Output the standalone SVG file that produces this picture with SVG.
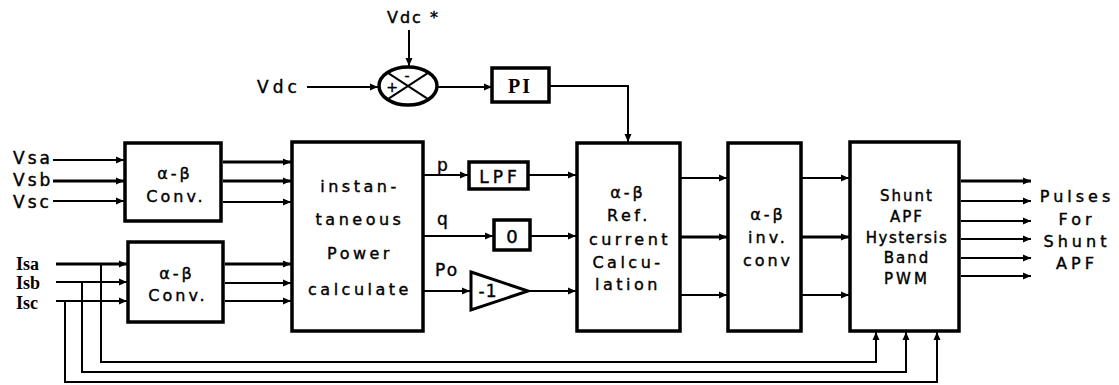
<svg xmlns="http://www.w3.org/2000/svg" width="1119" height="385" viewBox="0 0 1119 385">
<defs>
<marker id="ah" markerUnits="userSpaceOnUse" markerWidth="9" markerHeight="8" refX="8" refY="4" orient="auto">
<path d="M0,0.5 L8,4 L0,7.5 Z" fill="#000"/>
</marker>
</defs>
<style>
.box{fill:#fff;stroke:#000;stroke-width:3.5}
.ln{fill:none;stroke:#000;stroke-width:2;marker-end:url(#ah)}
.lnp{fill:none;stroke:#000;stroke-width:2}
.thk{stroke-width:3}
text{font-family:"DejaVu Sans",Verdana,sans-serif;fill:#000;stroke:#000;stroke-width:0.4}
.t{font-size:16px;text-anchor:middle;letter-spacing:3px}
.lbl{font-size:17px;letter-spacing:3px}
.ser{font-family:"Liberation Serif","Times New Roman",serif;font-weight:bold;font-size:18px;stroke-width:0}
</style>
<rect width="1119" height="385" fill="#fff"/>

<g id="connectors">
<path class="ln" d="M409,30 V66"/>
<path class="ln" d="M307,87 H378"/>
<path class="ln" d="M438,87 H492"/>
<path class="ln" d="M550,86 H628 V142"/>
<path class="ln" d="M53,160 H124"/>
<path class="ln thk" d="M53,181 H124"/>
<path class="ln" d="M53,201 H124"/>
<path class="ln thk" d="M56,264 H127"/>
<path class="ln" d="M56,282 H127"/>
<path class="ln" d="M56,301 H127"/>
<path class="ln thk" d="M223,162 H291"/>
<path class="ln thk" d="M223,181 H291"/>
<path class="ln" d="M223,202 H291"/>
<path class="ln thk" d="M225,264 H291"/>
<path class="ln" d="M225,283 H291"/>
<path class="ln" d="M225,301 H291"/>
<path class="ln" d="M424,175 H468"/>
<path class="ln" d="M529,175 H576"/>
<path class="ln" d="M424,236 H493"/>
<path class="ln" d="M531,236 H576"/>
<path class="ln" d="M424,291 H470"/>
<path class="ln" d="M528,291 H576"/>
<path class="ln" d="M681,178 H727"/>
<path class="ln thk" d="M681,237 H727"/>
<path class="ln" d="M681,295 H727"/>
<path class="ln" d="M802,178 H849"/>
<path class="ln thk" d="M802,237 H849"/>
<path class="ln" d="M802,295 H849"/>
<path class="ln thk" d="M961,181 H1031"/>
<path class="ln" d="M961,201 H1031"/>
<path class="ln" d="M961,221 H1031"/>
<path class="ln" d="M961,239 H1031"/>
<path class="ln" d="M961,258 H1031"/>
<path class="ln" d="M961,276 H1031"/>
<path class="ln" d="M101,264 V362 H876 V332"/>
<path class="ln" d="M82,282 V372 H906 V332"/>
<path class="ln" d="M65,301 V382 H937 V332"/>
</g>

<g id="sum">
<ellipse cx="408" cy="86" rx="29" ry="19" fill="#fff" stroke="#000" stroke-width="3.5"/>
<path class="lnp" d="M387.5,72.6 L428.5,99.4 M387.5,99.4 L428.5,72.6" stroke-width="1.5"/>
<text x="392" y="92" font-size="14" text-anchor="middle">+</text>
<text x="407" y="81" font-size="14" text-anchor="middle">-</text>
</g>

<g id="vdc-labels">
<text class="lbl" x="387" y="23" style="font-size:16px;letter-spacing:2px">Vdc *</text>
<text class="lbl" x="257" y="93" style="letter-spacing:4px">Vdc</text>
</g>

<g id="pi">
<rect class="box" x="492" y="68" width="57" height="34"/>
<text class="ser" x="520" y="93" text-anchor="middle" style="font-size:20px;letter-spacing:2px">PI</text>
</g>

<g id="v-labels">
<text class="lbl" x="13" y="164">Vsa</text>
<text class="lbl" x="13" y="186">Vsb</text>
<text class="lbl" x="13" y="208">Vsc</text>
</g>
<g id="i-labels">
<text class="ser" x="16" y="270">Isa</text>
<text class="ser" x="16" y="289">Isb</text>
<text class="ser" x="16" y="309">Isc</text>
</g>

<g id="conv-v">
<rect class="box" x="125" y="143" width="96" height="78"/>
<text class="t" x="175" y="179">α-β</text>
<text class="t" x="176" y="202">Conv.</text>
</g>
<g id="conv-i">
<rect class="box" x="128" y="242" width="95" height="80"/>
<text class="t" x="177" y="279">α-β</text>
<text class="t" x="178" y="301">Conv.</text>
</g>

<g id="inst-power">
<rect class="box" x="292" y="142" width="131" height="189"/>
<text class="t" x="360" y="192" style="letter-spacing:3.5px">instan-</text>
<text class="t" x="360" y="225" style="letter-spacing:3.5px">taneous</text>
<text class="t" x="360" y="259" style="letter-spacing:3.5px">Power</text>
<text class="t" x="360" y="295" style="letter-spacing:3.5px">calculate</text>
</g>

<g id="signal-labels">
<text x="437" y="171" font-size="17" letter-spacing="2">p</text>
<text x="437" y="225" font-size="17" letter-spacing="2">q</text>
<text x="435" y="276" font-size="17" letter-spacing="2">Po</text>
</g>

<g id="lpf">
<rect class="box" x="469" y="162" width="59" height="27"/>
<text class="t" x="500" y="183" style="font-size:17px;letter-spacing:4px">LPF</text>
</g>
<g id="zero">
<rect class="box" x="494" y="220" width="36" height="30"/>
<text class="t" x="512" y="243" style="font-size:18px;letter-spacing:0">0</text>
</g>
<g id="gain">
<path d="M471,272 L528,291 L471,310 Z" fill="#fff" stroke="#000" stroke-width="3"/>
<text x="488" y="297" font-size="17" text-anchor="middle" letter-spacing="1">-1</text>
</g>

<g id="ref-current">
<rect class="box" x="577" y="143" width="103" height="188"/>
<text class="t" x="628" y="198">α-β</text>
<text class="t" x="629" y="221" style="letter-spacing:3.5px">Ref.</text>
<text class="t" x="630" y="245" style="letter-spacing:3.5px">current</text>
<text class="t" x="628" y="268" style="letter-spacing:3.5px">Calcu-</text>
<text class="t" x="628" y="290" style="letter-spacing:3.5px">lation</text>
</g>

<g id="inv-conv">
<rect class="box" x="728" y="143" width="73" height="188"/>
<text class="t" x="768" y="220">α-β</text>
<text class="t" x="768" y="243">inv.</text>
<text class="t" x="768" y="266">conv</text>
</g>

<g id="shunt-pwm">
<rect class="box" x="850" y="142" width="109" height="189"/>
<text class="t" x="907" y="201" style="font-size:15px;letter-spacing:2px">Shunt</text>
<text class="t" x="907" y="222" style="font-size:15px;letter-spacing:2px">APF</text>
<text class="t" x="907" y="243" style="font-size:15px;letter-spacing:1.5px">Hystersis</text>
<text class="t" x="907" y="263" style="font-size:15px;letter-spacing:2px">Band</text>
<text class="t" x="907" y="284" style="font-size:15px;letter-spacing:3px">PWM</text>
</g>

<g id="outputs-label">
<text class="t" x="1077" y="202" style="letter-spacing:4px">Pulses</text>
<text class="t" x="1077" y="225" style="letter-spacing:4px">For</text>
<text class="t" x="1077" y="247" style="letter-spacing:4px">Shunt</text>
<text class="t" x="1077" y="269" style="letter-spacing:4px">APF</text>
</g>
</svg>
